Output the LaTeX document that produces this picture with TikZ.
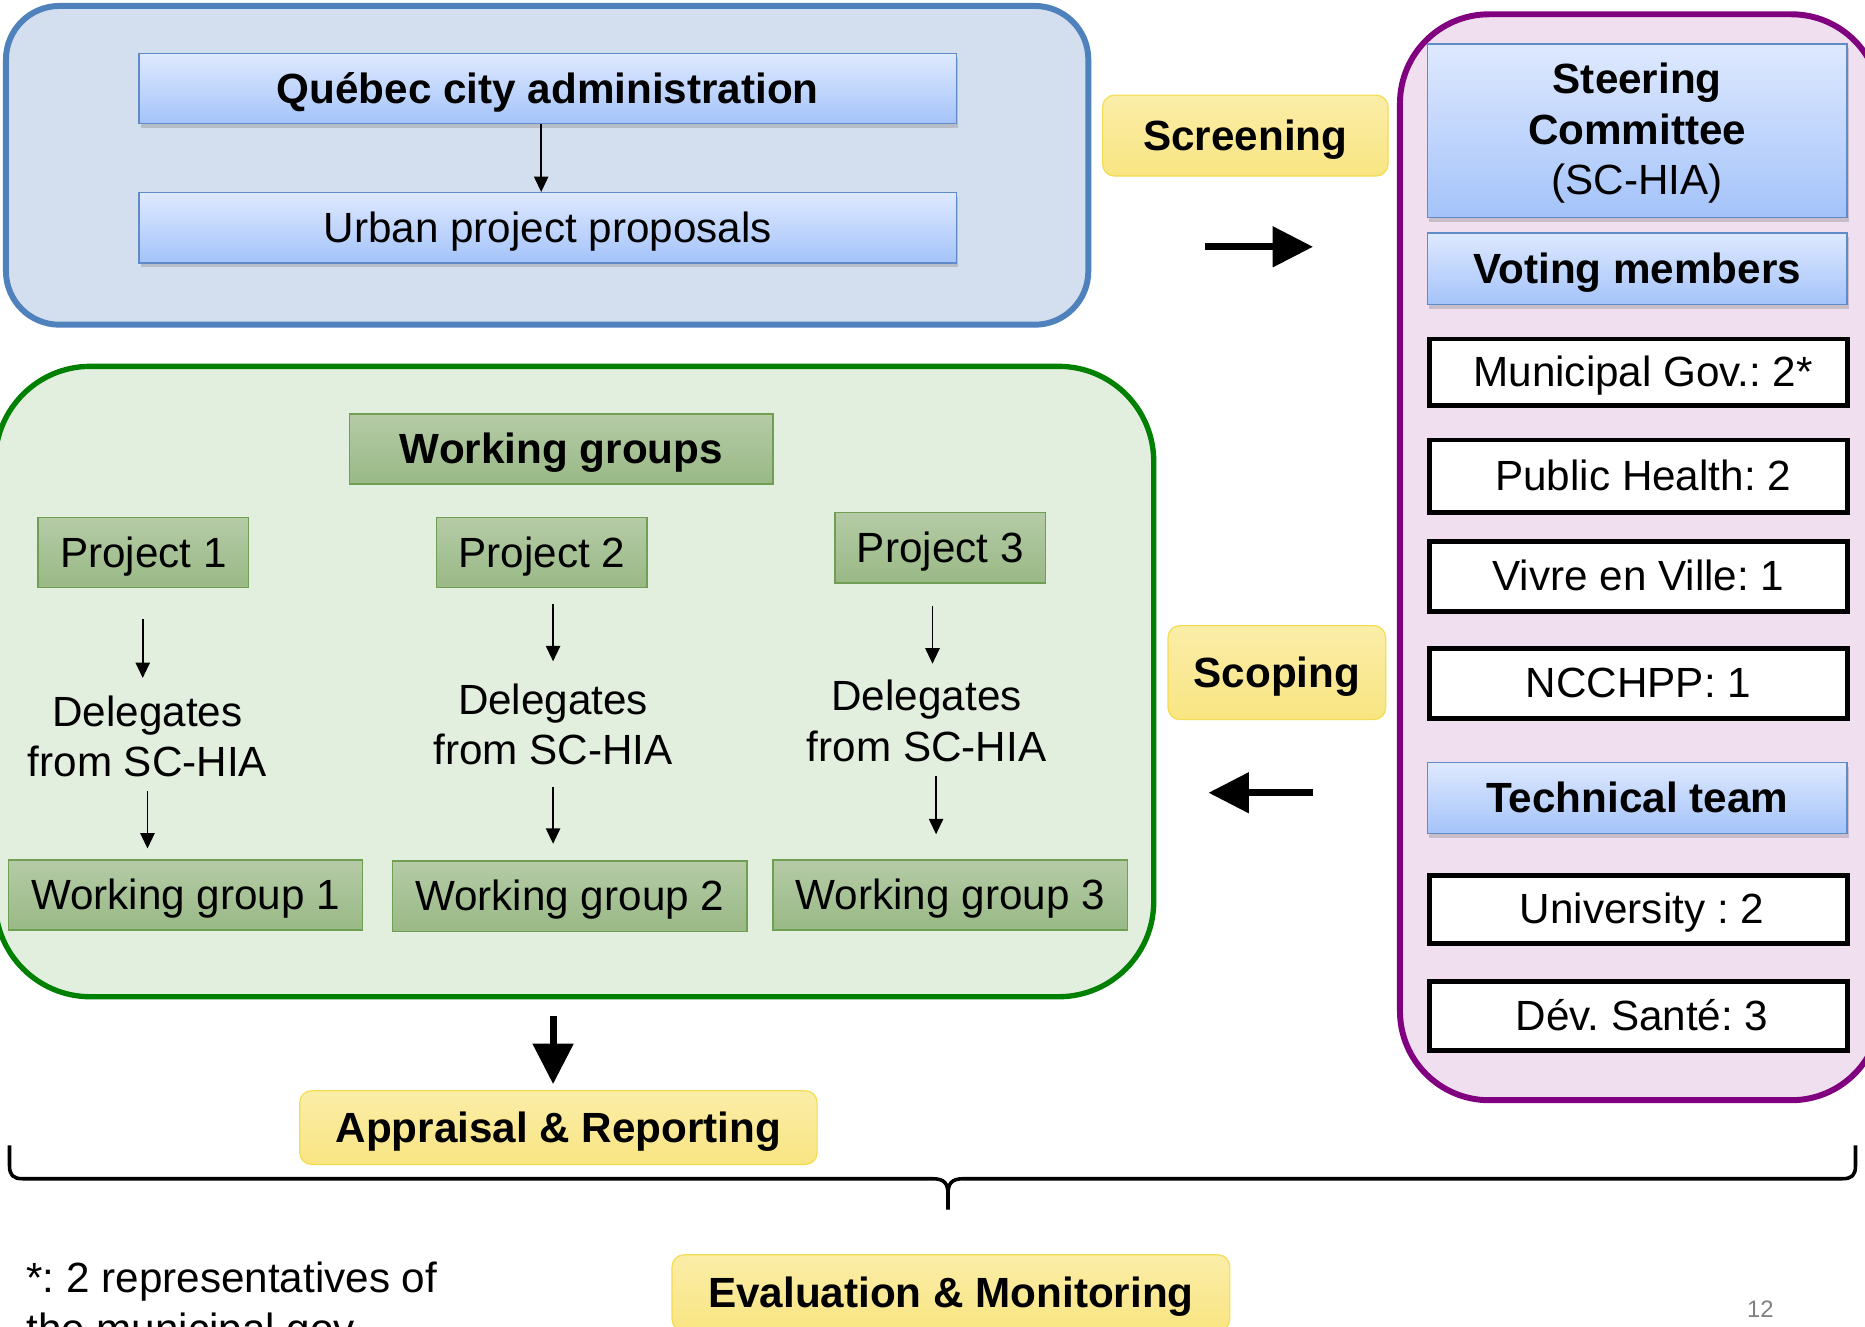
\documentclass[tikz,border=0pt]{standalone}
\usepackage{fontspec}
\setmainfont{Liberation Sans}
\frenchspacing
\usetikzlibrary{shadows,arrows.meta,calc}
\definecolor{blueedge}{RGB}{79,129,189}
\definecolor{bluebg}{RGB}{211,223,238}
\definecolor{bluetop}{RGB}{222,233,254}
\definecolor{bluebot}{RGB}{164,195,250}
\definecolor{boxedge}{RGB}{95,140,200}
\definecolor{greenedge}{RGB}{0,128,0}
\definecolor{greenbg}{RGB}{226,239,223}
\definecolor{greentop}{RGB}{181,203,166}
\definecolor{greenbot}{RGB}{153,185,134}
\definecolor{gboxedge}{RGB}{112,158,82}
\definecolor{yeltop}{RGB}{250,237,168}
\definecolor{yelbot}{RGB}{249,229,130}
\definecolor{yeledge}{RGB}{244,220,80}
\definecolor{pinkbg}{RGB}{240,223,239}
\definecolor{pinkedge}{RGB}{128,0,128}
\begin{document}
\begin{tikzpicture}[x=1pt,y=-1pt,
  every node/.style={font=\fontsize{35.5}{42.5}\selectfont\frenchspacing, inner sep=0pt},
  oneline/.style={text height=32.1pt, text depth=7.5pt},
  bluebase/.style={draw=boxedge, line width=1.2pt, top color=bluetop, bottom color=bluebot,
    drop shadow={shadow xshift=1.5pt, shadow yshift=-3.5pt, opacity=0.35}},
  bluebox/.style={bluebase, oneline},
  greenbox/.style={oneline, draw=gboxedge, line width=1.2pt, top color=greentop, bottom color=greenbot},
  yelbox/.style={oneline, draw=yeledge, line width=1pt, top color=yeltop, bottom color=yelbot, rounded corners=10pt},
  whitebox/.style={oneline, draw=black, line width=4pt, fill=white, minimum width=351pt},
  thinarrow/.style={line width=1.5pt, -{Triangle[width=12pt,length=13pt]}},
  thickarrow/.style={line width=6pt, -{Triangle[width=33pt,length=34pt]}},
  container/.style={line width=5pt}
]
\useasboundingbox (0,0) rectangle (1568,1115);
\clip (0,0) rectangle (1568,1115);

% containers
\draw[container, draw=blueedge, fill=bluebg, rounded corners=45pt] (5,5) rectangle (915,273);
\draw[container, line width=4.5pt, draw=greenedge, fill=greenbg, rounded corners=80pt] (-4,308) rectangle (970,838);
\draw[container, draw=pinkedge, fill=pinkbg, rounded corners=75pt] (1177,12) rectangle (1581,925);

% top blue block
\node[bluebox, minimum width=687pt, minimum height=59pt] (qca) at (460.5,74.5) {\textbf{Québec city administration}};
\node[bluebox, minimum width=687pt, minimum height=59pt] (upp) at (460.5,191.5) {Urban project proposals};
\coordinate (ax) at (455,0);
\draw[thinarrow] (qca.south -| ax) -- (upp.north -| ax);

% screening / scoping
\node[yelbox, minimum width=240pt, minimum height=68pt] (screen) at (1047,114) {\textbf{Screening}};
\node[yelbox, minimum width=183pt, minimum height=79pt] (scoping) at (1073.5,565.5) {\textbf{Scoping}};
\draw[thickarrow] ($(screen.south)+(-34,59)$) -- ($(screen.south)+(57,59)$);
\draw[thickarrow] ($(scoping.south)+(30.5,61)$) -- ($(scoping.south)+(-57.5,61)$);

% steering committee
\node[bluebase, minimum width=353pt, minimum height=146pt] (sc) at (1376.5,110) {};
\node[align=center] (sctext) at (1376.5,112) {\textbf{Steering}\\\textbf{Committee}\\(SC-HIA)};
\node[bluebox, minimum width=353pt, minimum height=60pt] (vote) at (1376.5,226) {\textbf{Voting members}};
\node[whitebox, minimum height=56pt] (muni) at (1377.5,313) {\hspace{8pt}Municipal Gov.: 2*};
\node[whitebox, minimum height=61pt] (ph) at (1377.5,400.5) {\hspace{8pt}Public Health: 2};
\node[whitebox, minimum height=59pt] (vev) at (1377.5,484.5) {Vivre en Ville: 1};
\node[whitebox, minimum height=59pt] (ncc) at (1377.5,574.5) {NCCHPP: 1};
\node[bluebox, minimum width=353pt, minimum height=60pt] (tech) at (1376.5,671) {\textbf{Technical team}};
\node[whitebox, minimum height=57pt] (univ) at (1377.5,764.5) {\hspace{6pt}University : 2};
\node[whitebox, minimum height=58pt] (dev) at (1377.5,854) {\hspace{6pt}Dév. Santé: 3};

% working groups
\node[greenbox, minimum width=356pt, minimum height=59pt] (wg) at (472,377.5) {\textbf{Working groups}};
\node[greenbox, minimum width=177pt, minimum height=59pt] (p1) at (120.5,464.5) {Project 1};
\node[greenbox, minimum width=177pt, minimum height=59pt] (p2) at (455.5,464.5) {Project 2};
\node[greenbox, minimum width=177pt, minimum height=59pt] (p3) at (790.5,460.5) {Project 3};
\node[align=center] (d1) at (124,619) {Delegates\\from SC-HIA};
\node[align=center] (d2) at (465,609) {Delegates\\from SC-HIA};
\node[align=center] (d3) at (779,606) {Delegates\\from SC-HIA};
\node[greenbox, minimum width=298pt, minimum height=59pt] (wg1) at (156,752.5) {Working group 1};
\node[greenbox, minimum width=298pt, minimum height=59pt] (wg2) at (479,753.5) {Working group 2};
\node[greenbox, minimum width=298pt, minimum height=59pt] (wg3) at (799,752.5) {Working group 3};

\draw[thinarrow] ($(p1.south)+(-0.5,26)$) -- ($(p1.south |- d1.center)+(-0.5,-49)$);
\draw[thinarrow] ($(d1.center)+(0,46)$) -- ($(d1.center |- wg1.north)+(0,-9)$);
\draw[thinarrow] ($(d2.center |- p2.south)+(0,13)$) -- ($(d2.center)+(0,-53)$);
\draw[thinarrow] ($(d2.center)+(0,53)$) -- ($(d2.center |- wg2.north)+(0,-14)$);
\draw[thinarrow] ($(d3.center |- p3.south)+(5,19)$) -- ($(d3.center)+(5,-48)$);
\draw[thinarrow] ($(d3.center)+(8,46)$) -- ($(d3.center |- wg3.north)+(8,-21)$);

% appraisal
\node[yelbox, minimum width=435pt, minimum height=62pt] (appr) at (469.5,948) {\textbf{Appraisal \& Reporting}};
\draw[thickarrow] ($(appr.north)+(-4.5,-62)$) -- ($(appr.north)+(-4.5,-5)$);

% brace
\draw[line width=3pt, line join=round]
  (8,963) -- (8,980) .. controls (8,988) and (11,991) .. (19,991) -- (784,991)
  .. controls (794,991) and (797,995) .. (797,1004) -- (797,1017);
\draw[line width=3pt, line join=round]
  (1560,963) -- (1560,980) .. controls (1560,988) and (1557,991) .. (1549,991) -- (810,991)
  .. controls (800,991) and (797,995) .. (797,1004);

% evaluation
\node[yelbox, minimum width=469pt, minimum height=64pt] (eval) at (799.5,1087) {\textbf{Evaluation \& Monitoring}};

% footnote and page number
\node[anchor=north west, align=left] (foot) at (22,1061) {*: 2 representatives of\\the municipal gov.};
\node[font=\fontsize{20}{24}\selectfont, text=gray] (pg) at (1480,1101) {12};
\end{tikzpicture}
\end{document}
